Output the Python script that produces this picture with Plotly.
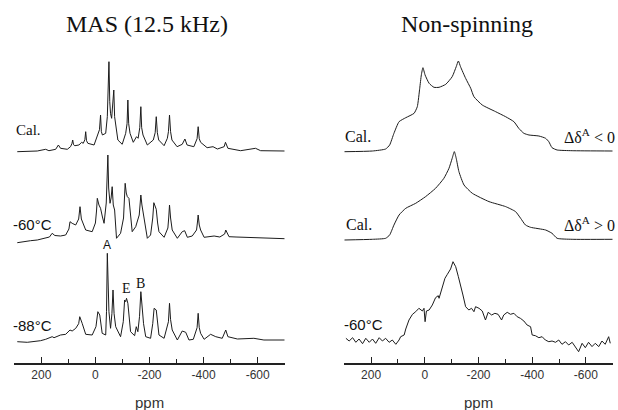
import plotly.graph_objects as go

W, H = 618, 410

# ---------------- data (ppm, intensity in arbitrary units) ----------------
mas_cal_ppm = [289, 215, 184, 172, 147, 137, 129, 104, 92, 87, 84, 81, 76, 61, 51, 45, 39, 36, 33, 28,
               5, -7, -15, -19, -22, -26, -38, -44, -47, -50, -53, -56, -60, -64, -68, -71, -75, -83,
               -99, -112, -117, -120, -123, -128, -140, -152, -158, -164, -168, -171, -176, -192,
               -214, -221, -225, -229, -234, -254, -266, -270, -274, -278, -283, -302, -321, -331,
               -339, -364, -376, -380, -384, -389, -413, -435, -451, -476, -481, -490, -537, -592,
               -611, -700]
mas_cal_int = [0, 0.7, 2.4, 1, 2.4, 6.7, 3.4, 2.4, 5, 8, 11.7, 7, 6, 6.7, 9.4, 8.4, 12, 20, 11, 8.4,
               6.7, 16.7, 22, 36.7, 20, 16.7, 18.4, 35, 55, 90, 50, 38, 33.4, 45, 61.7, 35, 25, 11.7,
               7.4, 18.4, 28, 51.7, 28, 18.4, 9.4, 15, 13.4, 24, 45, 24, 16.7, 6.7,
               11.7, 19, 35, 19, 11.7, 6, 13.4, 20, 36.7, 20, 11.7, 5, 7.4, 12.7,
               6.7, 5, 13, 25, 13, 9.4, 4, 5, 2.7, 5, 9.4, 3.4, 1, 3.4,
               1, 0.7]

mas_m60_ppm = [289, 265, 240, 215, 190, 170, 160, 150, 129, 110, 98, 94, 86, 73, 62, 57, 52, 49, 36, 12,
               0, -4, -7, -13, -19, -26, -32, -40, -43, -46, -49, -54, -58, -62, -66, -71, -78, -93,
               -104, -107, -110, -114, -118, -124, -130, -136, -149, -162, -165, -168, -172, -180,
               -192, -204, -212, -216, -220, -225, -230, -235, -254, -268, -271, -274, -278, -284,
               -303, -321, -330, -340, -358, -374, -377, -380, -384, -389, -402, -420, -439, -460,
               -478, -482, -494, -520, -549, -580, -623, -660, -700]
mas_m60_int = [0.3, 1.5, 2.3, 3, 4.7, 6, 9.7, 7.5, 7, 8, 14, 21.3, 19.7, 18, 24, 36.3, 24, 22, 13, 11.3,
               20, 32, 44.7, 38, 34.7, 26, 19.7, 40, 60, 88, 55, 39.7, 45, 56.3, 38, 33, 4.7, 9.7,
               25, 40, 59.7, 50, 46.3, 44.7, 25, 11.3, 16.3, 28, 38, 48, 38, 26.3,
               4.7, 8, 25, 40.3, 36, 33.7, 20, 11.3, 5.7, 15, 25, 38, 25, 13,
               4.7, 11.3, 12.3, 5.7, 7, 13, 20, 28, 18, 13, 5.7, 6.5, 7, 6,
               9, 13, 6.3, 6, 5.7, 5.2, 4.7, 4.5, 4.3]

mas_m88_ppm = [289, 252, 203, 184, 160, 153, 129, 110, 94, 86, 73, 62, 58, 53, 49, 36, 12, -2, -6, -9,
               -16, -21, -25, -38, -41, -44, -47, -50, -56, -61, -65, -69, -75, -93, -103, -108, -112,
               -115, -120, -125, -130, -145, -151, -157, -163, -168, -173, -178, -186, -204, -212,
               -217, -225, -230, -235, -254, -270, -274, -278, -284, -303, -321, -334, -346, -362,
               -376, -380, -384, -389, -402, -426, -445, -469, -482, -490, -525, -586, -623, -700]
mas_m88_int = [0, -0.6, 1, 2.4, 5, 4, 6.7, 7.4, 11.7, 10.7, 13.3, 18, 25, 20, 18.4, 7.4, 6.7, 15, 24, 30,
               26.7, 15, 8.4, 6.7, 30, 88.4, 40, 30, 13.4, 28, 51.7, 28, 15, 5, 20, 41.7, 40,
               43.4, 38.4, 20, 10, 6, 15, 10, 25, 50, 30, 18, 5, 3.4, 18,
               33.4, 31.7, 15, 6.7, 3.4, 20, 38.4, 22, 11.7, 1.7, 10.7, 9.4, 1.7, 2.4,
               14, 28.4, 14, 8.4, 2.4, 7.4, 5, 3.4, 11.7, 5, 2.7, 3.4, 1.7, 1.7]

st_cal1_ppm = [300, 195, 146, 131, 115, 96, 71, 40, 28, 19, 13, 7, -1, -16, -34, -53, -78, -102, -117,
               -125, -133, -152, -171, -183, -214, -264, -301, -332, -350, -369, -388, -425, -450,
               -462, -474, -493, -549, -700]
st_cal1_int = [0, 0.7, 2.7, 6.7, 18.4, 30, 34, 38.4, 45, 63.4, 76.7, 84, 76.7, 68.4, 64.4, 64.4, 67.4, 75, 85,
               90.7, 85, 73.4, 63.4, 55, 46.7, 40, 35, 30, 23.4, 18.4, 16.7, 15.7, 13.4,
               10, 4, 1.7, 1, 0.7]

st_cal2_ppm = [300, 195, 146, 131, 115, 96, 71, 34, -3, -40, -71, -90, -102, -110, -117, -127, -146,
               -177, -239, -301, -338, -357, -375, -394, -450, -474, -493, -549, -700]
st_cal2_int = [0, 0.7, 1.7, 5, 15, 25, 31.7, 36.7, 43.4, 51.7, 61.7, 71.7, 81.7, 88.4, 81.7, 68.4, 55,
               46.7, 38.4, 33.4, 28.4, 21.7, 15, 12.7, 10, 6.7, 1.7, 0.7, 0.7]

st_m60_ppm = [294, 282, 269, 257, 245, 232, 220, 207, 195, 183, 170, 158, 146, 133, 121, 108, 96, 90, 77,
              71, 59, 46, 34, 22, 9, 3, -1, -6, -16, -28, -40, -50, -53, -65, -75, -84, -90, -96, -105,
              -115, -125, -133, -142, -152, -164, -174, -183, -189, -202, -214, -226, -236, -249, -261,
              -273, -286, -294, -307, -319, -332, -344, -356, -369, -381, -394, -400, -412, -425, -437,
              -449, -462, -474, -487, -499, -511, -524, -536, -549, -561, -573, -586, -598, -610, -623,
              -635, -648, -660, -672, -685, -691]
st_m60_int = [3.4, 0.7, 4, -0.6, 2.7, -2, 3.4, -0.6, 2.7, -1.6, 4, 0.7, 3.4, -0.6, 1.7, -2.6, 1.7, 5, 6.7,
              12.7, 21.7, 27.4, 30, 33.4, 30.7, 33.4, 20, 30.7, 31.7, 36.7, 44, 46, 43.4, 53.4, 63.4, 67.4, 70, 72.7, 80,
              75, 65, 55, 46.7, 35, 31.7, 33.4, 30, 35, 33.4, 30.7, 21.7, 29.4, 26.7, 28.4,
              27.4, 21.7, 26.7, 29.4, 27.4, 28.4, 25, 23.4, 20.7, 16.7, 15, 6.7, 6, 4, 5,
              1.7, 0, 0.7, -0.6, 1.7, -2.6, 0, -3.3, -0.6, -5, -10, -1.6, -6, -0.6, -4.9,
              -1.6, -4.9, 0.7, -2.6, 5, -1.6]

tick_vals = [200, 0, -200, -400, -600]
tick_text = ["200", "0", "-200", "-400", "-600"]
minor_vals = [300, 100, -100, -300, -500, -700]
ppm_range = [300, -700]

# ---------------- layout geometry (pixels) ----------------
COLS = {"L": (14.3, 284.7), "R": (344.3, 612.7)}
AXIS_PY = 363
LINE = "#1c1c1c"

# (column, baseline px, x data, y data, show axis, line shape)
panels = [
    ("L", 151.7, mas_cal_ppm, mas_cal_int, False, "linear"),
    ("L", 243.0, mas_m60_ppm, mas_m60_int, False, "linear"),
    ("L", 341.7, mas_m88_ppm, mas_m88_int, True, "linear"),
    ("R", 151.7, st_cal1_ppm, st_cal1_int, False, "spline"),
    ("R", 240.0, st_cal2_ppm, st_cal2_int, False, "spline"),
    ("R", 341.7, st_m60_ppm, st_m60_int, True, "linear"),
]

fig = go.Figure()
layout = {}
for i, (col, base, xs, ys, show_axis, shape) in enumerate(panels):
    n = i + 1
    sfx = "" if n == 1 else str(n)
    bottom = AXIS_PY if show_axis else base + 20
    top = base - 100
    x0, x1 = COLS[col]
    line = dict(color=LINE, width=1, shape=shape)
    if shape == "spline":
        line["smoothing"] = 0.5
    fig.add_trace(go.Scatter(x=xs, y=ys, mode="lines", line=line,
                             xaxis="x" + sfx, yaxis="y" + sfx,
                             hoverinfo="skip", showlegend=False))
    xa = dict(domain=[x0 / W, x1 / W], range=ppm_range, anchor="y" + sfx,
              showgrid=False, zeroline=False)
    if show_axis:
        xa.update(showline=True, linecolor="#222", linewidth=1.5,
                  ticks="inside", ticklen=6, tickwidth=1.2, tickcolor="#222",
                  tickmode="array", tickvals=tick_vals, ticktext=tick_text,
                  tickfont=dict(family="Liberation Sans", size=12, color="#333"),
                  minor=dict(tickmode="array", tickvals=minor_vals, ticks="inside",
                             ticklen=4, tickwidth=1.2, tickcolor="#222", showgrid=False))
    else:
        xa.update(visible=False)
    layout["xaxis" + sfx] = xa
    layout["yaxis" + sfx] = dict(domain=[1 - bottom / H, 1 - top / H],
                                 range=[-(bottom - base), base - top],
                                 anchor="x" + sfx, visible=False)

SERIF = "Liberation Serif"
SANS = "Liberation Sans"


def ann(text, px, py, size, family, xanchor="left", color="#111"):
    return dict(text=text, x=px / W, y=1 - py / H, xref="paper", yref="paper",
                xanchor=xanchor, yanchor="middle", showarrow=False, borderpad=0,
                font=dict(family=family, size=size, color=color))


annotations = [
    ann("MAS (12.5 kHz)", 146.5, 24, 24, SERIF, "center"),
    ann("Non-spinning", 466.5, 24, 24, SERIF, "center"),
    ann("Cal.", 15, 130, 15, SERIF),
    ann("-60°C", 12, 224, 15, SANS),
    ann("-88°C", 12, 325, 15, SANS),
    ann("A", 107, 245, 12, SANS, "center"),
    ann("E", 126, 288, 14, SERIF, "center"),
    ann("B", 140.5, 283, 14, SERIF, "center"),
    ann("Cal.", 344, 136, 16, SERIF),
    ann("Δδ<sup>A</sup> &lt; 0", 563, 136, 16, SERIF),
    ann("Cal.", 345, 224, 16, SERIF),
    ann("Δδ<sup>A</sup> &gt; 0", 563, 224, 16, SERIF),
    ann("-60°C", 343, 324, 15, SANS),
    ann("ppm", 149.5, 402, 15, SANS, "center", "#333"),
    ann("ppm", 478.5, 402, 15, SANS, "center", "#333"),
]

fig.update_layout(width=W, height=H, autosize=False,
                  margin=dict(l=0, r=0, t=0, b=0),
                  paper_bgcolor="white", plot_bgcolor="rgba(0,0,0,0)",
                  annotations=annotations, **layout)

fig.write_html("out.html", config={"displayModeBar": False},
               post_script="document.body.style.margin='0';document.body.style.padding='0';")
